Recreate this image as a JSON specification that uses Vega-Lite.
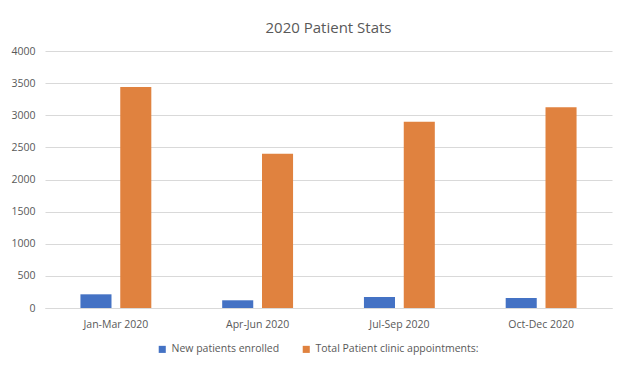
{
  "$schema": "https://vega.github.io/schema/vega-lite/v6.json",
  "width": 567,
  "height": 257,
  "autosize": {"type": "none"},
  "padding": {"left": 45, "top": 51, "right": 13, "bottom": 62},
  "background": "white",
  "title": {
    "text": "2020 Patient Stats",
    "font": "Open Sans",
    "fontSize": 15,
    "fontWeight": "normal",
    "color": "#595959",
    "anchor": "middle",
    "offset": 10
  },
  "data": {
    "values": [
      {"quarter": "Jan-Mar 2020", "series": "New patients enrolled", "value": 213},
      {"quarter": "Jan-Mar 2020", "series": "Total Patient clinic appointments:", "value": 3440},
      {"quarter": "Apr-Jun 2020", "series": "New patients enrolled", "value": 120},
      {"quarter": "Apr-Jun 2020", "series": "Total Patient clinic appointments:", "value": 2400},
      {"quarter": "Jul-Sep 2020", "series": "New patients enrolled", "value": 171},
      {"quarter": "Jul-Sep 2020", "series": "Total Patient clinic appointments:", "value": 2900},
      {"quarter": "Oct-Dec 2020", "series": "New patients enrolled", "value": 156},
      {"quarter": "Oct-Dec 2020", "series": "Total Patient clinic appointments:", "value": 3125}
    ]
  },
  "mark": {"type": "bar"},
  "encoding": {
    "x": {
      "field": "quarter",
      "type": "nominal",
      "sort": ["Jan-Mar 2020", "Apr-Jun 2020", "Jul-Sep 2020", "Oct-Dec 2020"],
      "scale": {"paddingInner": 0.5, "paddingOuter": 0.25},
      "axis": {
        "title": null,
        "labelAngle": 0,
        "ticks": false,
        "domainColor": "#d9d9d9",
        "labelColor": "#595959",
        "labelFont": "Open Sans",
        "labelFontSize": 10.5,
        "labelPadding": 11
      }
    },
    "xOffset": {
      "field": "series",
      "type": "nominal",
      "scale": {"domain": ["New patients enrolled", "Total Patient clinic appointments:"], "paddingInner": 0.22, "paddingOuter": 0}
    },
    "y": {
      "field": "value",
      "type": "quantitative",
      "scale": {"domain": [0, 4000]},
      "axis": {
        "title": null,
        "values": [0, 500, 1000, 1500, 2000, 2500, 3000, 3500, 4000],
        "format": "d",
        "domain": false,
        "ticks": false,
        "gridColor": "#d9d9d9",
        "labelColor": "#595959",
        "labelFont": "Open Sans",
        "labelFontSize": 10.5,
        "labelPadding": 10
      }
    },
    "color": {
      "field": "series",
      "type": "nominal",
      "scale": {"domain": ["New patients enrolled", "Total Patient clinic appointments:"], "range": ["#4472C4", "#E0823F"]},
      "legend": {
        "title": null,
        "orient": "none",
        "legendX": 112,
        "legendY": 293,
        "direction": "horizontal",
        "symbolType": "square",
        "symbolSize": 50,
        "symbolStrokeWidth": 0,
        "labelColor": "#595959",
        "labelFont": "Open Sans",
        "labelFontSize": 10.5,
        "labelLimit": 300,
        "columnPadding": 21
      }
    }
  },
  "config": {"view": {"stroke": null}}
}
